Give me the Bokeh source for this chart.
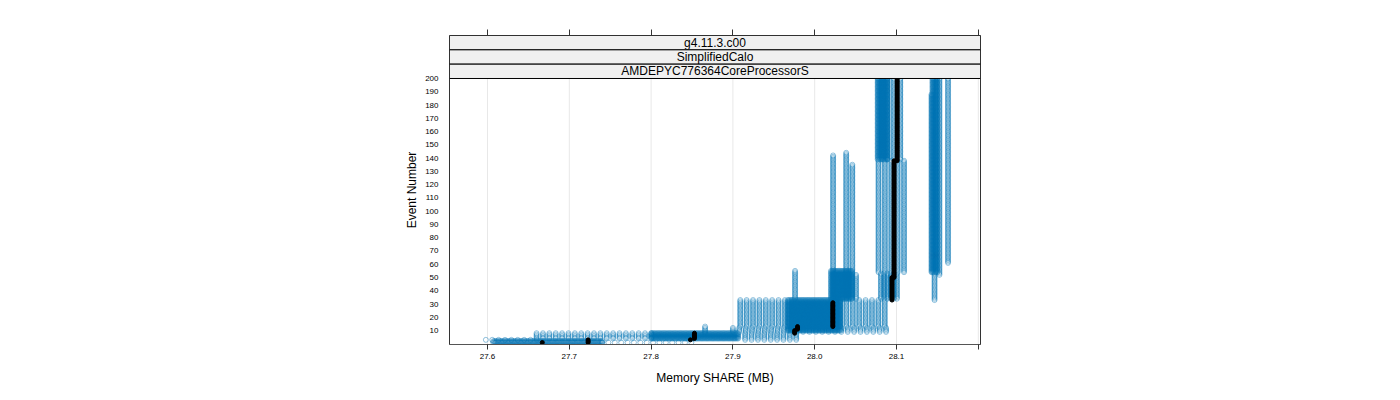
import numpy as np
from bokeh.plotting import figure
from bokeh.models import Range1d, LinearAxis, FixedTicker
from bokeh.core.properties import value
from bokeh.embed import file_html
from bokeh.resources import INLINE

# ---------------- data ----------------
strip_labels = ["g4.11.3.c00", "SimplifiedCalo", "AMDEPYC776364CoreProcessorS"]

x_ticks = [27.6, 27.7, 27.8, 27.9, 28.0, 28.1, 28.2]
x_tick_labels = ["27.6", "27.7", "27.8", "27.9", "28.0", "28.1", ""]
y_ticks = list(range(10, 201, 10))

# Blocks of recorded (memory, event) pairs: memory from blk_x0..blk_x1 (MB),
# recorded every blk_step MB, for events blk_y0..blk_y1
blk_x0 = [27.598, 27.607, 27.740, 27.660, 27.800, 27.915, 27.900, 27.909, 27.967, 28.031,
          28.020, 28.081, 28.078, 28.077, 28.089, 28.144]
blk_x1 = [27.658, 27.740, 27.850, 27.800, 27.907, 27.980, 28.087, 27.967, 28.031, 28.087,
          28.045, 28.101, 28.108, 28.089, 28.108, 28.150]
blk_y0 = [3, 1, 1, 4, 4, 3, 9, 13, 10, 13, 34, 34, 54, 139, 139, 54]
blk_y1 = [3, 2, 1, 8, 8, 8, 12, 33, 33, 33, 55, 53, 138, 200, 200, 200]
blk_step = [0.0078, 0.0015, 0.0078, 0.0078, 0.0015, 0.0078, 0.0078, 0.0078, 0.0015, 0.0078,
            0.0015, 0.0039, 0.0078, 0.0015, 0.0078, 0.0015]

# Single-memory columns: memory col_x (MB) for events col_y0..col_y1
col_x = [27.866, 27.976, 28.0225, 28.0385, 28.046, 28.0505, 28.1465, 28.1428, 28.1525, 28.163]
col_y0 = [8, 34, 34, 34, 34, 34, 33, 54, 52, 61]
col_y1 = [13, 55, 142, 144, 135, 52, 53, 188, 200, 200]

# Highlighted run (black)
run_x = [27.667, 27.723, 27.848, 27.853, 27.9755, 27.979, 28.0222, 28.0945, 28.097, 28.1008]
run_y0 = [1, 1, 3, 4, 8, 11, 13, 33, 50, 138]
run_y1 = [1, 3, 3, 8, 10, 13, 31, 50, 138, 200]

# ---------------- expand to points ----------------
bx, by = [], []
for x0, x1, y0, y1, st in zip(blk_x0, blk_x1, blk_y0, blk_y1, blk_step):
    xs = np.arange(x0, x1 + st * 0.5, st)
    ys = np.arange(y0, y1 + 1)
    gx, gy = np.meshgrid(xs, ys)
    bx.append(gx.ravel()); by.append(gy.ravel())
for x, y0, y1 in zip(col_x, col_y0, col_y1):
    ys = np.arange(y0, y1 + 1)
    bx.append(np.full(len(ys), x)); by.append(ys)
bx = np.concatenate(bx); by = np.concatenate(by)

rx, ry = [], []
for x, y0, y1 in zip(run_x, run_y0, run_y1):
    ys = np.arange(y0, y1 + 1)
    rx.append(np.full(len(ys), x)); ry.append(ys)
rx = np.concatenate(rx); ry = np.concatenate(ry)

# ---------------- figure ----------------
FONT = "Liberation Sans"
x_lo, x_hi = 27.55355, 28.20269
y_lo, y_top_panel = -0.5, 200.0
strip_h = 10.8
y_hi = y_top_panel + 3 * strip_h

p = figure(width=1400, height=400, output_backend="svg", toolbar_location=None,
           x_range=Range1d(x_lo, x_hi), y_range=Range1d(y_lo, y_hi),
           min_border_left=449, min_border_right=420, min_border_top=35, min_border_bottom=56,
           x_axis_location=None, y_axis_location=None)
p.xgrid.visible = False
p.ygrid.visible = False
p.outline_line_color = "#333333"
p.background_fill_color = "white"
p.border_fill_color = "white"

# grid lines (panel only)
p.segment(x0=x_ticks, x1=x_ticks, y0=[y_lo] * len(x_ticks), y1=[y_top_panel] * len(x_ticks),
          line_color="#e8e8e8", line_width=1)

# points
p.scatter(bx, by, marker="circle", size=5, fill_color=None, line_color="#0072B2",
          line_alpha=0.42, line_width=1)
p.scatter(rx, ry, marker="circle", size=4, fill_color="black", line_color="black")

# strips
xc = (x_lo + x_hi) / 2
for i, lab in enumerate(strip_labels):
    top = y_hi - i * strip_h
    bot = top - strip_h
    p.quad(left=[x_lo], right=[x_hi], bottom=[bot], top=[top], fill_color="#f0f0f0",
           line_color="black", line_width=1)
    p.text(x=[xc], y=[(top + bot) / 2], text=[lab], text_align="center", text_baseline="middle",
           text_font=value(FONT), text_font_size="12px", text_color="black")

# axes
xb = LinearAxis(ticker=FixedTicker(ticks=x_ticks),
                major_label_overrides={t: l for t, l in zip(x_ticks, x_tick_labels)},
                axis_label="Memory SHARE (MB)")
xb.major_label_text_font = FONT
xb.major_label_text_font_size = "8px"
xb.major_label_text_color = "black"
xb.axis_label_text_font = FONT
xb.axis_label_text_font_size = "12px"
xb.axis_label_text_font_style = "normal"
xb.axis_label_text_color = "black"
xb.axis_label_standoff = 9
xb.major_tick_out = 5
xb.major_tick_in = 0
xb.minor_tick_line_color = None
xb.axis_line_color = "#555555"
xb.major_tick_line_color = "#333333"
xb.major_label_standoff = 4
p.add_layout(xb, "below")

xt = LinearAxis(ticker=FixedTicker(ticks=x_ticks),
                major_label_overrides={t: "" for t in x_ticks})
xt.major_tick_out = 6
xt.major_tick_in = 0
xt.minor_tick_line_color = None
xt.axis_line_color = None
xt.major_tick_line_color = "#333333"
p.add_layout(xt, "above")

yl = LinearAxis(ticker=FixedTicker(ticks=y_ticks), axis_label="Event Number")
yl.major_label_text_font = FONT
yl.major_label_text_font_size = "8px"
yl.major_label_text_color = "black"
yl.axis_label_text_font = FONT
yl.axis_label_text_font_size = "12px"
yl.axis_label_text_font_style = "normal"
yl.axis_label_text_color = "black"
yl.axis_label_standoff = 3
yl.major_tick_line_color = None
yl.minor_tick_line_color = None
yl.axis_line_color = None
yl.major_label_standoff = 5
p.add_layout(yl, "left")

open("out.html", "w").write(file_html(p, INLINE))
